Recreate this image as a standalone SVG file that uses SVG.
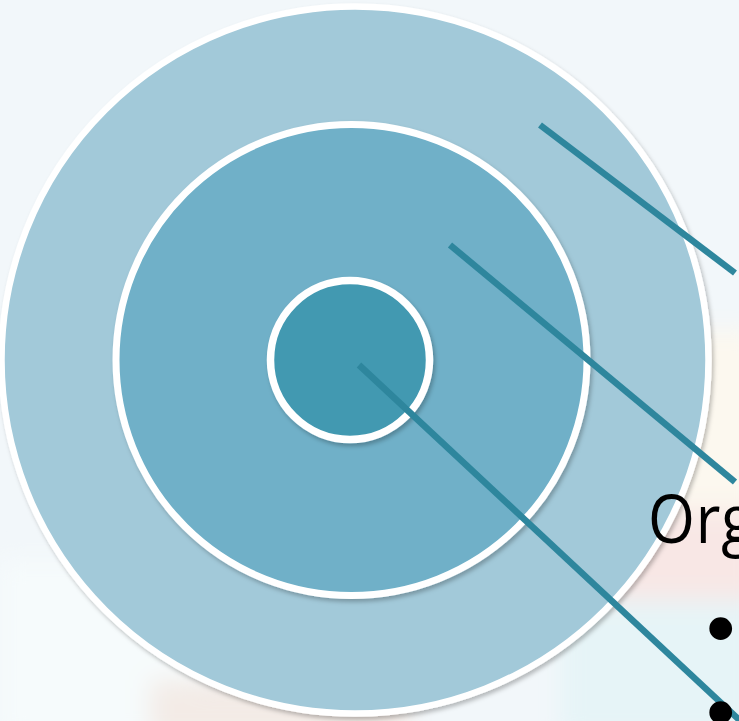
<svg xmlns="http://www.w3.org/2000/svg" width="739" height="721" viewBox="0 0 739 721">
  <defs>
    <filter id="shadow" x="-10%" y="-10%" width="120%" height="120%">
      <feDropShadow dx="2" dy="3" stdDeviation="2" flood-color="#000" flood-opacity="0.25"/>
    </filter>
    <filter id="blur" x="-20%" y="-20%" width="140%" height="140%">
      <feGaussianBlur stdDeviation="12"/>
    </filter>
    <style>
      .ring { stroke: #ffffff; filter: url(#shadow); }
      .lead { stroke: #2e869d; stroke-width: 6.5; stroke-linecap: butt; fill: none; }
      .txt { font-family: "Open Sans", "Liberation Sans", sans-serif; fill: #000; }
      .bul { font-family: "Liberation Sans", sans-serif; fill: #000; }
    </style>
  </defs>

  <!-- background -->
  <rect x="0" y="0" width="739" height="721" fill="#f2f7fa"/>
  <g filter="url(#blur)">
    <rect x="600" y="330" width="160" height="180" fill="#fcf8ef"/>
    <rect x="560" y="510" width="200" height="90" fill="#f8e7e5"/>
    <rect x="560" y="600" width="200" height="140" fill="#e6f4f7"/>
    <rect x="0" y="560" width="200" height="180" fill="#f6fbfc"/>
    <rect x="150" y="680" width="260" height="60" fill="#f3ebe6"/>
  </g>

  <!-- nodes -->
  <g id="outer-circle">
    <circle class="ring" cx="355" cy="360" r="353.5" fill="#a2c9d9" stroke-width="6.5"/>
  </g>
  <g id="middle-circle">
    <circle class="ring" cx="351.5" cy="360" r="235.5" fill="#6fb0c8" stroke-width="7"/>
  </g>
  <g id="inner-circle">
    <circle class="ring" cx="350" cy="360" r="79.5" fill="#4299b1" stroke-width="7.5"/>
  </g>

  <!-- connectors -->
  <g id="connectors">
    <line class="lead" x1="540" y1="125" x2="735" y2="273"/>
    <line class="lead" x1="450" y1="245" x2="735" y2="482"/>
    <line class="lead" x1="359" y1="365" x2="748" y2="728"/>
  </g>

  <!-- text -->
  <g id="label">
    <text class="txt" x="648" y="543" font-size="67" transform="translate(648 0) scale(0.9 1) translate(-648 0)" letter-spacing="1">Org</text>
    <text class="bul" x="706" y="655.5" font-size="84">•</text>
    <text class="bul" x="706" y="740" font-size="84">•</text>
  </g>
</svg>
